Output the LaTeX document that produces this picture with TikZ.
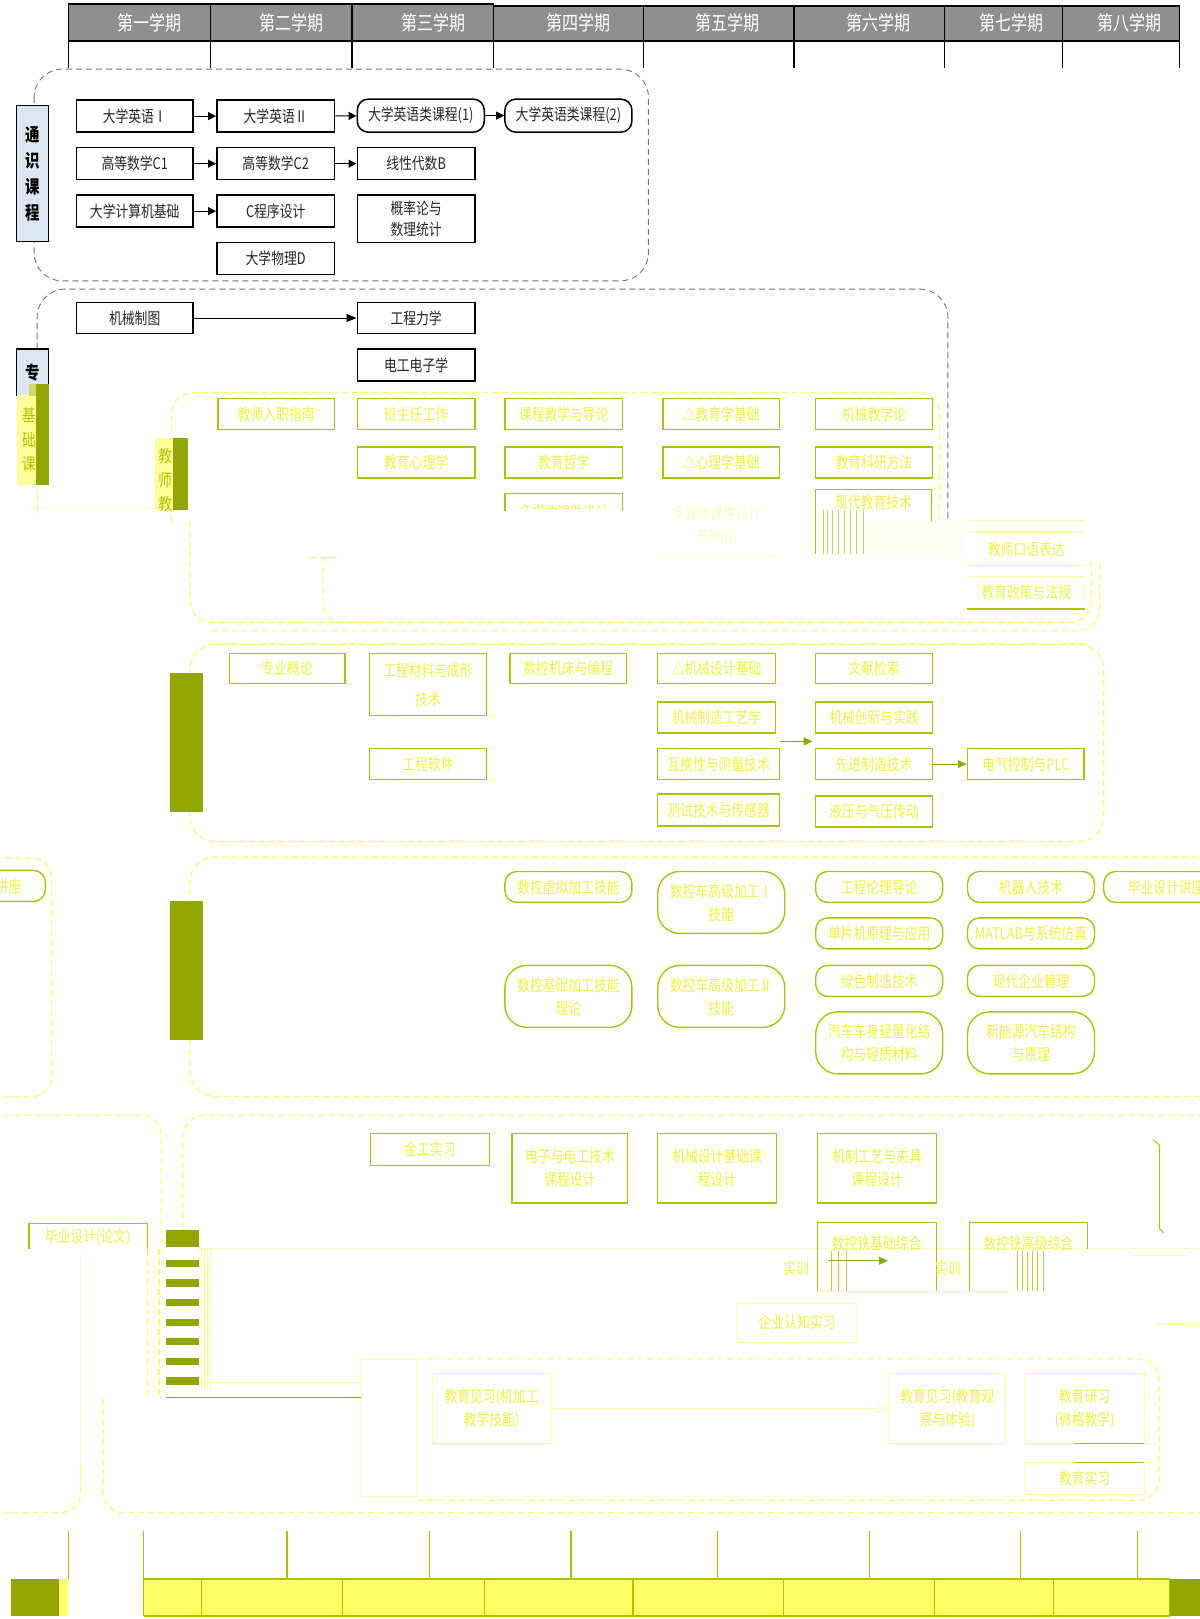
\documentclass[tikz,border=0pt]{standalone}
\usepackage{fontspec}
\setmainfont{Noto Sans CJK SC}[FakeStretch=0.8]
\usetikzlibrary{arrows.meta}
\definecolor{hdr}{HTML}{8F8F8F}
\definecolor{lblue}{HTML}{DCE6F2}
\definecolor{yol}{HTML}{93A600}
\definecolor{ybd}{HTML}{B2C000}
\definecolor{ytx}{HTML}{F0F040}
\definecolor{ydsh}{HTML}{FFFF55}
\definecolor{yfill}{HTML}{FFFF66}
\definecolor{ylt}{HTML}{FFFF99}
\definecolor{yfaint}{HTML}{FAFAC0}
\definecolor{gdsh}{HTML}{707070}
\newcommand{\btxt}{\fontsize{16}{18}\selectfont}
\newcommand{\btwo}{\fontsize{16}{23}\selectfont}
\newcommand{\cbox}[7]{\node[#1, minimum width={(#5-#3)*1.0327pt}, minimum height={(#6-#4)*1.0327pt}] (#2) at ({(#3+#5)/2},{(#4+#6)/2}) {#7};}
\tikzset{
  bb/.style={draw=black, line width=1.5pt, fill=white, inner sep=0pt, align=center, font=\btxt, text=black!85},
  br/.style={bb, rounded corners=11pt},
  lbl/.style={draw=black, line width=1.3pt, fill=lblue, inner sep=0pt, align=center, font=\fontsize{18}{26}\selectfont\bfseries},
  yb/.style={draw=ybd, line width=1.4pt, inner sep=0pt, align=center, font=\btxt, text=ytx},
  yb2/.style={yb, font=\btwo},
  ybe/.style={yb},
  ybthin/.style={draw=ylt, line width=1pt, inner sep=0pt, align=center, font=\btwo, text=ytx},
  yr/.style={yb, rounded corners=12pt},
  yr2/.style={yb, font=\btwo, rounded corners=22pt},
  ytn/.style={inner sep=0pt, align=center, font=\btxt, text=ytx},
  gdash/.style={draw=gdsh, line width=0.9pt, dash pattern=on 6pt off 4pt},
  ydash/.style={draw=ydsh, line width=1.1pt, dash pattern=on 6pt off 4pt},
  barr/.style={line width=1pt, -{Triangle[length=8pt,width=8pt]}},
  yarr/.style={draw=yol, line width=0.8pt, -{Triangle[length=9pt,width=8pt]}, yol},
  hd/.style={text=white, font=\fontsize{20}{22}\selectfont}
}
\begin{document}
\begin{tikzpicture}[x=1.0327pt,y=-1.0327pt]
\useasboundingbox (0,0) rectangle (1162,1568);
\clip (0,0) rectangle (1162,1568);
% ---------- header ----------
\fill[hdr] (66,5) rectangle (1142,40);
\draw[line width=1.6pt] (66,4) -- (478,4);
\draw[line width=1.6pt] (478,6) -- (1142,6);
\draw[line width=1.6pt] (66,40) -- (1142,40);
\foreach \x in {66,204,341,478,623,769,915,1029,1142} \draw[line width=1.2pt] (\x,5) -- (\x,66);
\node[hd] (h1) at (145,22) {第一学期};
\node[hd] (h2) at (282,22) {第二学期};
\node[hd] (h3) at (420,22) {第三学期};
\node[hd] (h4) at (560,22) {第四学期};
\node[hd] (h5) at (705,22) {第五学期};
\node[hd] (h6) at (851,22) {第六学期};
\node[hd] (h7) at (980,22) {第七学期};
\node[hd] (h8) at (1094,22) {第八学期};
% ---------- general courses ----------
\draw[gdash, rounded corners=28pt] (33,67) rectangle (628,272);
\cbox{lbl}{tong}{16}{102}{47}{234}{通\\识\\课\\程}
\cbox{bb}{g1}{74}{97}{187}{128}{大学英语Ⅰ}
\cbox{bb}{g2}{210}{97}{324}{128}{大学英语Ⅱ}
\cbox{br}{g3}{346}{96}{469}{128}{大学英语类课程(1)}
\cbox{br}{g4}{489}{96}{612}{128}{大学英语类课程(2)}
\cbox{bb}{g5}{74}{143}{187}{174}{高等数学C1}
\cbox{bb}{g6}{210}{143}{324}{174}{高等数学C2}
\cbox{bb}{g7}{346}{143}{460}{174}{线性代数B}
\cbox{bb}{g8}{74}{189}{187}{220}{大学计算机基础}
\cbox{bb}{g9}{210}{189}{324}{220}{C程序设计}
\cbox{bb, font=\fontsize{16}{21}\selectfont}{g10}{346}{189}{460}{235}{概率论与\\数理统计}
\cbox{bb}{g11}{210}{235}{324}{266}{大学物理D}
\draw[barr] (g1) -- (g2);
\draw[barr] (g2) -- (g3);
\draw[barr] (g3) -- (g4);
\draw[barr] (g5) -- (g6);
\draw[barr] (g6) -- (g7);
\draw[barr] (g8) -- (g9);
% ---------- professional basics ----------
\draw[gdash, rounded corners=28pt] (36,338) -- (36,280) -- (918,280) -- (918,505);
\draw[ydash] (918,505) -- (918,540);
\draw[ydash] (36,470) -- (36,500);
\cbox{lbl}{zhuan}{16}{338}{47}{383}{专}
\fill[ylt] (16,383) rectangle (47,470);
\node[font=\fontsize{17}{17}\selectfont, text=ybd] (jc1) at (28,402) {基};
\node[font=\fontsize{17}{17}\selectfont, text=ybd] (jc2) at (28,426) {础};
\node[font=\fontsize{17}{17}\selectfont, text=ybd] (jc3) at (28,450) {课};
\fill[yol] (35,372) rectangle (47,470);
\fill[ybd!60!white] (28,372) rectangle (35,384);
\draw[yfaint] (30,492) -- (175,492);
\cbox{bb}{m1}{74}{293}{187}{323}{机械制图}
\cbox{bb}{m2}{346}{293}{460}{323}{工程力学}
\cbox{bb}{m3}{346}{338}{460}{369}{电工电子学}
\draw[line width=0.7pt, -{Triangle[length=10pt,width=8pt]}] (m1) -- (m2);
% ---------- teacher education ----------
\draw[ydash, rounded corners=22pt] (166,505) -- (166,380) -- (910,380) -- (910,505);
\draw[ydash, rounded corners=22pt] (184,505) -- (184,603) -- (1057,603) -- (1057,545);
\draw[ydash, rounded corners=22pt] (205,611) -- (1065,611) -- (1065,545);
\draw[ydash] (300,540) -- (330,540);
\draw[ydash, rounded corners=18pt] (313,540) -- (313,603) -- (360,603);
\fill[ylt] (150,424) rectangle (182,494);
\begin{scope}
\clip (150,424) rectangle (182,494);
\node[font=\fontsize{17}{17}\selectfont, text=ybd] (jj1) at (160,442) {教};
\node[font=\fontsize{17}{17}\selectfont, text=ybd] (jj2) at (160,465) {师};
\node[font=\fontsize{17}{17}\selectfont, text=ybd] (jj3) at (160,488) {教};
\end{scope}
\fill[yol] (168,424) rectangle (182,494);
\cbox{yb}{t1}{211}{386}{324}{416}{教师入职指南}
\cbox{yb}{t2}{346}{386}{460}{416}{班主任工作}
\cbox{yb}{t3}{489}{386}{603}{416}{课程教学与导论}
\cbox{yb}{t4}{642}{386}{755}{416}{△教育学基础}
\cbox{yb}{t5}{790}{386}{903}{416}{机械教学论}
\cbox{yb}{t6}{346}{433}{460}{463}{教育心理学}
\cbox{yb}{t7}{489}{433}{603}{463}{教育哲学}
\cbox{yb}{t8}{642}{433}{755}{463}{△心理学基础}
\cbox{yb}{t9}{790}{433}{903}{463}{教育科研方法}
\draw[ybd, line width=1.4pt] (489,495) -- (489,478) -- (603,478) -- (603,495);
\begin{scope}
\clip (489,478) rectangle (603,492);
\node[ytn] (t10) at (546,496) {多媒体课件设计};
\end{scope}
\node[ytn, text=yfaint, font=\btwo] (t11) at (694,508) {多媒体课件设计\\与制作};
\draw[yfaint, line width=1pt] (636,539) -- (750,539);
\fill[yellow!4] (839,505) rectangle (936,537);
\draw[ybd, line width=1.4pt] (790,537) -- (790,474) -- (902,474) -- (902,505);
\node[ytn] (t12) at (846,487) {现代教育技术};
\foreach \x in {797,801,806,812,818,823,829,836}
  \draw[ybd!70!white, line width=0.5pt] (\x,494) -- (\x,537);
\draw[ylt, line width=0.8pt] (937,504) -- (1051,504);
\draw[ylt, line width=0.8pt] (937,516) -- (1051,516);
\draw[ylt, line width=0.8pt] (937,548) -- (1051,548);
\draw[ylt, line width=0.8pt] (937,558) -- (1051,558);
\draw[ybd, line width=1.4pt] (937,590) -- (1051,590);
\draw[ylt, line width=0.6pt] (1050,566) -- (1050,582);
\node[ytn] (t13) at (994,532) {教师口语表达};
\node[ytn] (t14) at (994,574) {教育政策与法规};
% ---------- core professional ----------
\draw[ydash, rounded corners=25pt] (184,624) rectangle (1069,815);
\fill[yol] (165,652) rectangle (197,786);
\cbox{yb}{c1}{222}{633}{334}{662}{专业概论}
\cbox{yb, font=\fontsize{16}{29}\selectfont}{c2}{358}{633}{471}{693}{工程材料与成形\\技术}
\cbox{yb}{c3}{494}{633}{607}{662}{数控机床与编程}
\cbox{yb}{c4}{637}{633}{751}{662}{△机械设计基础}
\cbox{yb}{c5}{790}{633}{903}{662}{文献检索}
\cbox{yb}{c6}{637}{680}{751}{710}{机械制造工艺学}
\cbox{yb}{c7}{790}{680}{903}{710}{机械创新与实践}
\cbox{yb}{c8}{358}{725}{471}{755}{工程软件}
\cbox{yb}{c9}{637}{725}{755}{755}{互换性与测量技术}
\cbox{yb}{c10}{790}{725}{903}{755}{先进制造技术}
\cbox{yb}{c11}{937}{725}{1050}{755}{电气控制与PLC}
\cbox{yb}{c12}{637}{769}{755}{800}{测试技术与传感器}
\cbox{yb}{c13}{790}{771}{903}{801}{液压与气压传动}
\coordinate (ca) at (755,718);
\coordinate (cb) at (787,718);
\draw[yarr] (ca) -- (cb);
\draw[yarr] (c10) -- (c11);
% ---------- electives ----------
\draw[ydash, rounded corners=25pt] (1170,830) -- (184,830) -- (184,1062) -- (1170,1062);
\draw[ydash, rounded corners=20pt] (5,831) -- (50,831) -- (50,1062) -- (5,1062);
\fill[yol] (165,873) rectangle (197,1007);
\cbox{yr}{e0}{-77}{843}{44}{873}{毕业设计讲座}
\cbox{yr}{e1}{489}{844}{612}{874}{数控虚拟加工技能}
\cbox{yr2}{e2}{637}{844}{760}{904}{数控车高级加工Ⅰ\\技能}
\cbox{yr}{e3}{790}{844}{913}{874}{工程伦理导论}
\cbox{yr}{e4}{937}{844}{1060}{874}{机器人技术}
\cbox{yr}{e5}{1069}{844}{1190}{874}{毕业设计讲座}
\cbox{yr}{e6}{790}{889}{913}{919}{单片机原理与应用}
\cbox{yr}{e7}{937}{889}{1060}{919}{MATLAB与系统仿真}
\cbox{yr2}{e8}{489}{935}{612}{995}{数控基础加工技能\\理论}
\cbox{yr2}{e9}{637}{935}{760}{995}{数控车高级加工Ⅱ\\技能}
\cbox{yr}{e10}{790}{935}{913}{965}{绿色制造技术}
\cbox{yr}{e11}{937}{935}{1060}{965}{现代企业管理}
\cbox{yr2}{e12}{790}{980}{913}{1040}{汽车车身轻量化结\\构与轻质材料}
\cbox{yr2}{e13}{937}{980}{1060}{1040}{新能源汽车结构\\与原理}
% ---------- practice ----------
\draw[ydash, rounded corners=20pt] (5,1080) -- (156,1080) -- (156,1210);
\draw[ydash] (143,1210) -- (143,1353);
\draw[ydash] (154,1210) -- (154,1353);
\draw[yfaint, line width=0.8pt] (78,1215) -- (78,1440);
\draw[ydash, rounded corners=20pt] (78,1420) -- (78,1465) -- (5,1465);
\draw[ydash, rounded corners=20pt] (100,1355) -- (100,1465) -- (1170,1465);
\draw[ydash, rounded corners=22pt] (177,1190) -- (177,1080) -- (1170,1080);
\begin{scope}
\clip (0,1170) rectangle (1162,1209);
\cbox{ybe}{p8}{28}{1185}{143}{1220}{}
\end{scope}
\node[ytn] (p8t) at (85,1198) {毕业设计(论文)};
\foreach \x in {195,198,201,204}
  \draw[ylt, line width=0.5pt] (\x,1209) -- (\x,1345);
\fill[yol] (161,1191) rectangle (193,1208);
\foreach \y in {1220,1239,1258,1277,1296,1315,1334}
  \fill[yol] (161,\y) rectangle (193,\y+7);
\draw[yol, line width=0.8pt] (161,1353) -- (350,1353);
\draw[ylt, line width=0.8pt] (193,1339) -- (350,1339);
\draw[yfaint, line width=0.8pt] (190,1209) -- (1162,1209);
\cbox{yb}{p1}{359}{1098}{474}{1129}{金工实习}
\cbox{yb2}{p2}{496}{1098}{608}{1165}{电子与电工技术\\课程设计}
\cbox{yb2}{p3}{637}{1098}{752}{1165}{机械设计基础课\\程设计}
\cbox{yb2}{p4}{792}{1098}{907}{1165}{机制工艺与夹具\\课程设计}
\draw[ybd, line width=1.4pt] (792,1250) -- (792,1184) -- (907,1184) -- (907,1250);
\draw[ybd, line width=1.4pt] (939,1250) -- (939,1184) -- (1053,1184) -- (1053,1210);
\node[ytn] (p5) at (849,1204) {数控铣基础综合};
\node[ytn] (p5b) at (771,1228) {实训};
\node[ytn] (p6) at (996,1204) {数控铣高级综合};
\node[ytn] (p6b) at (918,1228) {实训};
\foreach \x in {805,812,820,985,990,995,1000,1005,1010}
  \draw[ybd!80!white, line width=0.5pt] (\x,1212) -- (\x,1250);
\draw[ylt, line width=0.8pt] (792,1251) -- (976,1251);
\coordinate (pa) at (802,1221);
\coordinate (pb) at (860,1221);
\draw[yarr] (pa) -- (pb);
\cbox{ybthin, font=\btxt}{p7}{714}{1262}{830}{1300}{企业认知实习}
\draw[ybd, line width=1pt] (1117,1104) -- (1123,1109) -- (1123,1190) -- (1127,1194);
\draw[ylt, line width=0.8pt] (1097,1216) -- (1149,1216);
\draw[ylt, line width=0.8pt] (1120,1283) -- (1160,1283);
% ---------- teaching practice ----------
\draw[ylt, line width=0.6pt] (350,1316) rectangle (404,1449);
\draw[ydash, rounded corners=22pt] (404,1316) -- (1123,1316) -- (1123,1453) -- (404,1453);
\cbox{ybthin}{s1}{419}{1330}{533}{1398}{教育见习(机加工\\教学技能)}
\cbox{ybthin}{s2}{861}{1330}{974}{1398}{教育见习(教育观\\察与体验)}
\cbox{ybthin}{s3}{993}{1330}{1108}{1398}{教育研习\\(微格教学)}
\cbox{ybthin, font=\btxt}{s4}{993}{1416}{1108}{1447}{教育实习}
\draw[ybd, line width=1pt] (1040,1398) -- (1108,1398);
\draw[ybd, line width=1pt] (1040,1416) -- (1108,1416);
\draw[ylt, line width=0.8pt, -{Triangle[open, length=12pt, width=10pt]}] (s1) -- (s2);
% ---------- bottom ----------
\foreach \x in {66,139,278,416,553,695,842,988,1102}
  \draw[ybd, line width=1.2pt] (\x,1483) -- (\x,1529);
\fill[yfill] (139,1529) rectangle (1133,1565);
\draw[ybd, line width=1.5pt] (139,1529) -- (1133,1529);
\draw[ybd, line width=1.5pt] (139,1565) -- (1133,1565);
\foreach \x in {139,195,332,469,613,759,905,1020,1133}
  \draw[ybd, line width=1.2pt] (\x,1529) -- (\x,1565);
\fill[yol] (1133,1529) rectangle (1162,1565);
\fill[yol] (11,1529) rectangle (57,1565);
\fill[yfill] (57,1529) rectangle (66,1565);
\end{tikzpicture}
\end{document}
